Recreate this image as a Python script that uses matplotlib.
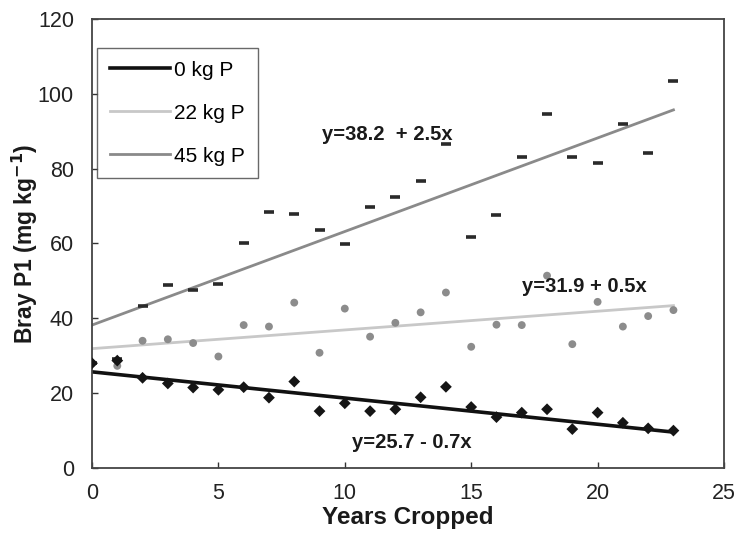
import matplotlib
matplotlib.use("Agg")
import matplotlib.pyplot as plt
import numpy as np

plt.rcParams["font.family"] = ["Liberation Sans Narrow", "Liberation Sans", "DejaVu Sans"]

years = list(range(0, 24))

p0_kg = [28.0, 28.7, 24.1, 22.6, 21.5, 20.9, 21.6, 18.8, 23.1, 15.2, 17.3, 15.2,
         15.7, 18.9, 21.7, 16.3, 13.6, 14.8, 15.7, 10.4, 14.8, 12.1, 10.6, 10.0]
p22_kg = [28.0, 27.3, 34.0, 34.4, 33.4, 29.8, 38.2, 37.8, 44.2, 30.8, 42.6, 35.1,
          38.8, 41.6, 46.9, 32.4, 38.3, 38.2, 51.4, 33.1, 44.4, 37.8, 40.6, 42.2]
p45_kg = [28.0, 29.0, 43.3, 48.9, 47.6, 49.1, 60.2, 68.3, 67.8, 63.6, 59.9, 69.7,
          72.4, 76.6, 86.6, 61.8, 67.7, 83.1, 94.6, 83.1, 81.5, 92.0, 84.1, 103.3]

labels = ["0 kg P", "22 kg P", "45 kg P"]
intercepts = [25.7, 31.9, 38.2]
slopes = [-0.7, 0.5, 2.5]
equations = ["y=25.7 - 0.7x", "y=31.9 + 0.5x", "y=38.2  + 2.5x"]
eq_pos = [(10.3, 6.7), (17.0, 48.4), (9.1, 89.0)]

fig = plt.figure(figsize=(7.39, 5.42), dpi=100)
ax = fig.add_axes([0.1245, 0.1365, 0.8552, 0.8285])

x = np.array(years, dtype=float)
line_colors = ["#111111", "#c8c8c8", "#8a8a8a"]
line_widths = [2.6, 2.0, 2.0]

# fitted lines
for i in range(3):
    ax.plot(x, intercepts[i] + slopes[i] * x, color=line_colors[i],
            linewidth=line_widths[i], label=labels[i], zorder=2)

# observed points
ax.scatter(years, p45_kg, marker="_", s=45, linewidths=2.6, color="#2a2a2a", zorder=3)
ax.scatter(years, p22_kg, marker="o", s=32, color="#8c8c8c", edgecolors="none", zorder=3)
ax.scatter(years, p0_kg, marker="D", s=36, color="#151515", edgecolors="none", zorder=4)

for eq, (ex, ey) in zip(equations, eq_pos):
    ax.text(ex, ey, eq, fontsize=14.5, fontweight="bold", va="center", ha="left",
            color="#1a1a1a")

ax.set_xlim(0, 25)
ax.set_ylim(0, 120)
ax.set_xticks(range(0, 26, 5))
ax.set_yticks(range(0, 121, 20))
ax.tick_params(direction="in", length=4, width=1, labelsize=15.5, colors="#333333",
               labelcolor="#222222")
ax.tick_params(axis="x", pad=11)
ax.tick_params(axis="y", pad=13)
for sp in ax.spines.values():
    sp.set_linewidth(1.3)
    sp.set_color("#444444")

ax.set_xlabel("Years Cropped", fontsize=17.5, fontweight="bold", labelpad=1, color="#1a1a1a")
ax.set_ylabel("Bray P1 (mg kg$^{\\mathbf{-1}}$)", fontsize=16.5, fontweight="bold",
              color="#1a1a1a")
ax.yaxis.set_label_coords(-0.082, 0.5)

leg = ax.legend(loc="upper left", bbox_to_anchor=(0.008, 0.935), fontsize=15,
                frameon=True, fancybox=False, edgecolor="#444444", handlelength=2.9,
                handletextpad=0.2, labelspacing=1.15, borderpad=0.6, borderaxespad=0)
leg.get_frame().set_linewidth(1.0)

fig.savefig("out.png", dpi=100)
